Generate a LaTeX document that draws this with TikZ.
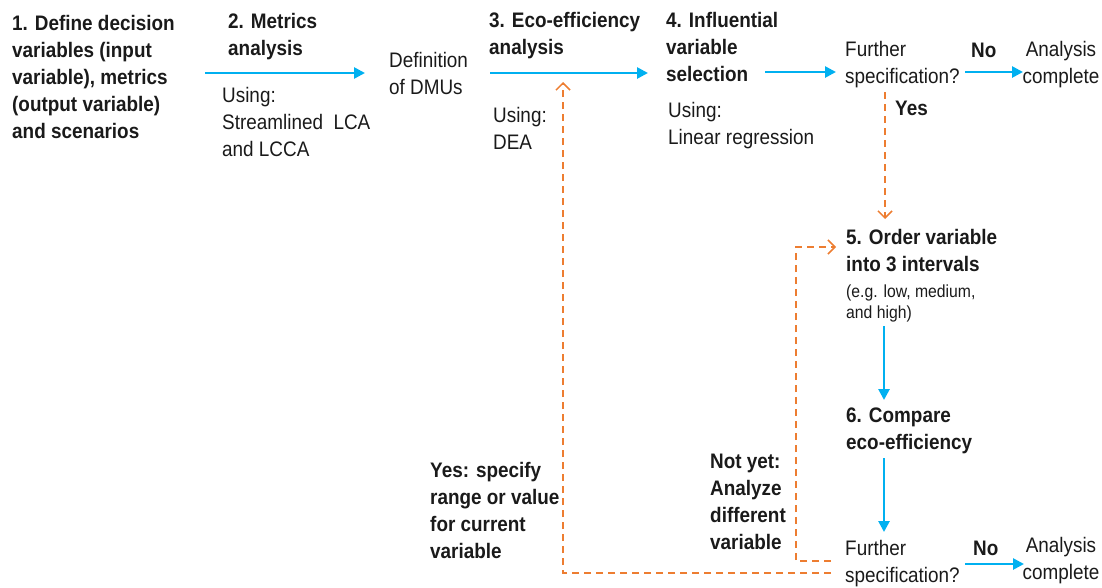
\documentclass[tikz,border=0pt]{standalone}
\usepackage{fontspec}
\setmainfont{Liberation Sans}[FakeStretch=0.9]
\usetikzlibrary{arrows.meta}
\definecolor{flowblue}{HTML}{00B0F0}
\definecolor{loopor}{HTML}{ED7D31}
\definecolor{ink}{HTML}{1A1A1A}
\tikzset{
  boldtxt/.style={inner sep=0pt, anchor=base west, align=left, text=ink,
    font=\fontsize{21pt}{27pt}\selectfont\bfseries},
  regtxt/.style={inner sep=0pt, anchor=base west, align=left, text=ink,
    font=\fontsize{21pt}{27pt}\selectfont},
  smalltxt/.style={inner sep=0pt, anchor=base west, align=left, text=ink,
    font=\fontsize{17.5pt}{21pt}\selectfont},
  flow/.style={draw=flowblue, line width=2.6pt, -{Triangle[length=11pt,width=11pt]}},
  loopback/.style={draw=loopor, line width=1.5pt, dash pattern=on 7pt off 5pt,
    -{Straight Barb[length=7pt,width=14pt,line width=1.5pt]}}
}
\begin{document}
\begin{tikzpicture}[x=1pt,y=-1pt]
\useasboundingbox (0,0) rectangle (1102,587);

% text nodes (anchored at the baseline of their last line)
\node[boldtxt] (s1) at (12,138) {1. Define decision\\variables (input\\variable), metrics\\(output variable)\\and scenarios};
\node[boldtxt] (s2) at (228,55) {2. Metrics\\analysis};
\node[regtxt] (u2) at (222,156) {Using:\\Streamlined\ \ LCA\\and LCCA};
\node[regtxt] (dmu) at (389,94) {Definition\\of DMUs};
\node[boldtxt] (s3) at (489,54) {3. Eco-efficiency\\analysis};
\node[regtxt] (u3) at (493,149) {Using:\\DEA};
\node[boldtxt] (s4) at (666,81) {4. Influential\\variable\\selection};
\node[regtxt] (u4) at (668,144) {Using:\\Linear regression};
\node[regtxt] (q1) at (845,83) {Further\\specification?};
\node[boldtxt] (no1) at (971,57) {No};
\node[regtxt, align=center, anchor=base] (a1) at (1061,83) {Analysis\\complete};
\node[boldtxt] (yes1) at (895,115) {Yes};
\node[boldtxt] (s5) at (846,271) {5. Order variable\\into 3 intervals};
\node[smalltxt] (e5) at (846,318) {(e.g. low, medium,\\and high)};
\node[boldtxt] (s6) at (846,449) {6. Compare\\eco-efficiency};
\node[regtxt] (q2) at (845,582) {Further\\specification?};
\node[boldtxt] (no2) at (973,555) {No};
\node[regtxt, align=center, anchor=base] (a2) at (1061,579) {Analysis\\complete};
\node[boldtxt] (yspec) at (430,558) {Yes: specify\\range or value\\for current\\variable};
\node[boldtxt] (notyet) at (710,549) {Not yet:\\Analyze\\different\\variable};

% connector end points
\coordinate (c1a) at (205,73);   \coordinate (c1b) at (365,73);
\coordinate (c2a) at (490,73);   \coordinate (c2b) at (648,73);
\coordinate (c3a) at (765,72);   \coordinate (c3b) at (836,72);
\coordinate (c4a) at (965,72);   \coordinate (c4b) at (1023,72);
\coordinate (c5a) at (884,326);  \coordinate (c5b) at (884,400);
\coordinate (c6a) at (884,458);  \coordinate (c6b) at (884,532);
\coordinate (c7a) at (965,564);  \coordinate (c7b) at (1024,564);
\coordinate (d1a) at (885,92);   \coordinate (d1b) at (885,219);
\coordinate (d2a) at (831,561);  \coordinate (d2k1) at (796,561);
\coordinate (d2k2) at (796,247); \coordinate (d2b) at (836,247);
\coordinate (d3a) at (831,573);  \coordinate (d3k) at (563,573);
\coordinate (d3b) at (563,82);

% blue flow arrows
\draw[flow] (c1a) -- (c1b);
\draw[flow] (c2a) -- (c2b);
\draw[flow] (c3a) -- (c3b);
\draw[flow] (c4a) -- (c4b);
\draw[flow] (c5a) -- (c5b);
\draw[flow] (c6a) -- (c6b);
\draw[flow] (c7a) -- (c7b);

% orange dashed loops
\draw[loopback] (d1a) -- (d1b);
\draw[loopback] (d2a) -- (d2k1) -- (d2k2) -- (d2b);
\draw[loopback] (d3a) -- (d3k) -- (d3b);
\end{tikzpicture}
\end{document}
